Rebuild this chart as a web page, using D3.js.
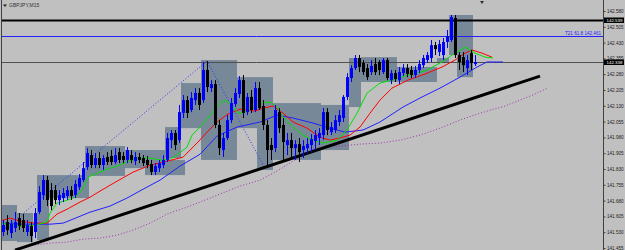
<!DOCTYPE html>
<html>
<head>
<meta charset="utf-8">
<script src="https://cdn.jsdelivr.net/npm/d3@7"></script>
<style>
body { margin: 0; background: #c0c0c0; }
svg { display: block; }
</style>
</head>
<body>
<svg width="625" height="250"></svg>
<script>
// GBPJPY M15 candles
var candleOpen = [141.531,141.578,141.526,141.550,141.597,141.588,141.531,141.559,141.531,141.626,
  141.706,141.778,141.730,141.730,141.683,141.692,141.702,141.730,141.706,141.744,
  141.778,141.839,141.896,141.849,141.882,141.849,141.887,141.892,141.863,141.910,
  141.892,141.873,141.896,141.868,141.887,141.882,141.873,141.853,141.816,141.834,
  141.849,141.873,141.967,142.001,141.967,142.096,142.157,142.110,142.157,142.191,
  142.157,142.300,142.214,142.233,142.039,141.920,141.977,142.062,142.138,142.186,
  142.252,142.100,142.172,142.110,142.214,142.129,142.039,141.944,141.929,142.100,
  142.039,141.944,141.967,141.929,141.948,141.920,141.929,141.944,141.963,141.977,
  141.991,142.100,142.005,142.015,142.053,142.072,142.172,142.262,142.309,142.357,
  142.333,142.309,142.290,142.328,142.338,142.290,142.347,142.252,142.285,142.252,
  142.285,142.309,142.300,142.276,142.300,142.323,142.347,142.357,142.418,142.385,
  142.371,142.433,142.442,142.547,142.371,142.361,142.309,142.380,142.328];
var candleHigh = [141.588,141.611,141.588,141.626,141.621,141.616,141.588,141.578,141.645,141.749,
  141.801,141.797,141.763,141.754,141.730,141.740,141.749,141.749,141.778,141.806,
  141.863,141.929,141.920,141.906,141.910,141.896,141.910,141.920,141.929,141.929,
  141.910,141.934,141.920,141.910,141.906,141.896,141.892,141.873,141.858,141.873,
  141.896,142.001,142.015,142.015,142.134,142.181,142.176,142.195,142.214,142.214,
  142.338,142.342,142.252,142.252,142.062,142.001,142.086,142.167,142.214,142.271,
  142.276,142.191,142.205,142.243,142.243,142.157,142.062,141.977,142.134,142.119,
  142.072,142.001,142.001,141.967,141.977,141.967,141.977,141.996,142.015,142.024,
  142.119,142.119,142.053,142.086,142.110,142.181,142.285,142.323,142.371,142.371,
  142.347,142.328,142.347,142.357,142.347,142.357,142.357,142.300,142.300,142.314,
  142.328,142.328,142.319,142.319,142.347,142.371,142.385,142.442,142.433,142.442,
  142.452,142.490,142.561,142.561,142.385,142.385,142.371,142.395,142.371];
var candleLow = [141.512,141.517,141.502,141.531,141.540,141.531,141.512,141.483,141.502,141.616,
  141.683,141.654,141.635,141.664,141.659,141.673,141.683,141.683,141.692,141.730,
  141.768,141.825,141.834,141.834,141.834,141.825,141.849,141.849,141.853,141.858,
  141.858,141.858,141.858,141.849,141.858,141.844,141.834,141.801,141.801,141.816,
  141.834,141.863,141.929,141.920,141.953,142.072,142.072,142.100,142.134,142.110,
  142.143,142.195,142.195,142.024,141.896,141.887,141.967,142.048,142.124,142.167,
  142.072,142.086,142.096,142.100,142.110,142.015,141.834,141.873,141.910,142.001,
  141.873,141.896,141.873,141.873,141.863,141.882,141.901,141.910,141.920,141.944,
  141.967,141.991,141.991,142.001,142.034,142.053,142.157,142.243,142.300,142.290,
  142.276,142.252,142.276,142.276,142.276,142.281,142.252,142.233,142.243,142.233,
  142.271,142.266,142.262,142.262,142.285,142.309,142.333,142.338,142.371,142.366,
  142.347,142.404,142.433,142.357,142.300,142.290,142.276,142.300,142.319];
var candleClose = [141.564,141.540,141.569,141.578,141.559,141.550,141.564,141.512,141.621,141.721,
  141.778,141.683,141.654,141.683,141.706,141.716,141.730,141.702,141.759,141.787,
  141.834,141.906,141.849,141.882,141.849,141.882,141.863,141.863,141.896,141.873,
  141.873,141.920,141.873,141.887,141.873,141.858,141.849,141.816,141.844,141.858,
  141.873,141.977,142.001,141.944,142.100,142.157,142.096,142.167,142.191,142.134,
  142.300,142.219,142.233,142.039,141.929,141.977,142.062,142.143,142.191,142.252,
  142.096,142.172,142.110,142.214,142.119,142.039,141.920,141.920,142.110,142.024,
  141.958,141.967,141.929,141.948,141.910,141.939,141.948,141.972,141.991,142.001,
  142.100,142.015,142.029,142.062,142.086,142.172,142.266,142.309,142.357,142.314,
  142.290,142.266,142.319,142.290,142.300,142.347,142.262,142.285,142.257,142.290,
  142.309,142.281,142.276,142.300,142.328,142.357,142.371,142.418,142.399,142.423,
  142.433,142.461,142.551,142.371,142.338,142.323,142.347,142.333,142.338];

// grey hourly range boxes: first bar, last bar, top, bottom
var boxFrom = [0, 4, 9, 9, 21, 31, 36, 41, 45, 50, 59, 64, 68, 80, 87, 90, 99, 109, 112, 114];
var boxTo   = [3, 7, 11, 21, 30, 40, 45, 44, 49, 58, 63, 67, 79, 86, 89, 98, 108, 111, 117, 117];
var boxTop  = [141.659,141.621,141.801,141.801,141.939,141.920,141.873,142.029,142.238,142.347,
  142.266,142.266,142.143,142.134,142.357,142.361,142.314,142.357,142.561,142.371];
var boxBottom = [141.488,141.483,141.493,141.692,141.797,141.834,141.801,141.882,142.024,141.873,
  142.024,141.825,141.873,141.920,142.124,142.243,142.243,142.333,142.371,142.266];

// moving averages (bar position, value)
var greenBars = [-0.5,4.25,8,11,11.75,13.5,16,18,19.75,21.25,23.5,26.75,29.25,31.75,34.25,36.75,39.25,41.75,43.5,46,
  47.25,49.75,52.25,54.25,55.5,57.25,58.75,60.5,62.5,64.25,66.75,68.5,70,72.5,75,77.5,80,83.5,86,88.5,
  91,94.25,97.25,101.25,105.5,109.75,113,115.5,118,120.5,122.5];
var greenVals = [141.573,141.559,141.563,141.578,141.620,141.668,141.682,141.696,141.730,141.791,141.810,141.834,141.848,141.872,141.882,141.882,141.872,141.877,141.896,141.934,
  141.991,142.038,142.095,142.143,142.157,142.133,142.095,142.100,142.119,142.143,142.148,142.124,142.076,142.029,141.991,141.967,141.953,141.967,142.015,142.095,
  142.190,142.238,142.252,142.276,142.295,142.338,142.380,142.409,142.380,142.361,142.357];
var redBars = [-0.75,1.75,4.25,8,11,13.5,16,19.25,21.75,24.25,26.75,28.5,32.5,36.75,41,45,48.75,51.25,53.75,56.25,
  59.25,63,65,67.5,70,72.5,76,79.25,81.75,84.25,86.75,89.25,91.75,94.25,97.25,101.25,105.5,109.75,113,115.5,
  117.25,119.75,122.25];
var redVals = [141.582,141.597,141.582,141.573,141.573,141.616,141.639,141.673,141.696,141.725,141.753,141.772,141.815,141.848,141.867,141.886,141.958,142.010,142.057,142.091,
  142.114,142.105,142.119,142.129,142.095,142.053,142.024,141.981,141.967,141.977,141.991,142.029,142.095,142.157,142.214,142.252,142.281,142.314,142.347,142.380,
  142.395,142.380,142.361];
var blueBars = [-0.75,4.25,11.75,15,17.5,21.75,26.75,31,35,39.25,44.25,49.25,53.5,58.5,64.25,68.5,72.5,77.5,81.75,85.5,
  90,94.25,100,104.25,109.25,114.25,118.5,121,125];
var blueVals = [141.573,141.568,141.568,141.573,141.592,141.625,141.654,141.692,141.734,141.777,141.844,141.900,141.986,142.029,142.053,142.086,142.072,142.048,142.024,142.005,
  142.015,142.053,142.124,142.167,142.214,142.266,142.314,142.338,142.338];
var purpleBars = [3.5,6,11.75,16,20,24.25,28.5,32.5,36.75,41,46,49.25,54.25,59.25,64.25,68,71.75,75,78.5,84.25,
  89.25,94.25,99.25,104.25,109.25,114.25,119.25,125.5,131.75,136.25];
var purpleVals = [141.454,141.464,141.478,141.483,141.497,141.502,141.516,141.540,141.573,141.616,141.649,141.673,141.711,141.749,141.777,141.815,141.858,141.900,141.929,141.939,
  141.948,141.953,141.967,141.991,142.024,142.062,142.095,142.129,142.176,142.214];

// zigzag swing points
var zigzagBars = [0, 51, 65.5];
var zigzagVals = [141.540, 142.342, 141.834];

// trend line anchors
var trendBars = [3, 134.25];
var trendVals = [141.445, 142.271];

// horizontal levels
var levelVals = [142.539, 142.461, 142.338];
var levelText = ["142.539", "T21 61.8  142.461", "142.338"];

// price axis
var tickLabels = ["142.580","142.505","142.430","142.355","142.280","142.205","142.130","142.055",
  "141.980","141.905","141.830","141.755","141.680","141.605","141.530","141.455"];

var svg = d3.select("svg"),
    width = +svg.attr("width"),
    height = +svg.attr("height"),
    plotRight = 603,
    font = "Liberation Sans";

var x = d3.scaleLinear().domain([0, 118]).range([3, 475]);
var y = d3.scaleLinear().domain([141.455, 142.580]).range([248, 11]);

svg.append("rect").attr("width", width).attr("height", height).attr("fill", "#c0c0c0");

svg.append("clipPath").attr("id", "plot")
  .append("rect").attr("x", 1).attr("y", 0).attr("width", plotRight - 1).attr("height", height);

var g = svg.append("g").attr("clip-path", "url(#plot)");

// boxes
g.append("g").selectAll("rect")
  .data(boxFrom.map((d, i) => i))
  .enter().append("rect")
    .attr("x", i => x(boxFrom[i]) - 2)
    .attr("y", i => y(boxTop[i]))
    .attr("width", i => x(boxTo[i]) - x(boxFrom[i]) + 4)
    .attr("height", i => y(boxBottom[i]) - y(boxTop[i]))
    .attr("fill", "#778899");

// horizontal levels
var levelColor = ["#000", "#2020ff", "#505050"],
    levelWidth = [2.2, 1, 1];
g.append("g").selectAll("line")
  .data(levelVals)
  .enter().append("line")
    .attr("x1", 0).attr("x2", plotRight)
    .attr("y1", d => Math.round(y(d)) + 0.5).attr("y2", d => Math.round(y(d)) + 0.5)
    .attr("stroke", (d, i) => levelColor[i])
    .attr("stroke-width", (d, i) => levelWidth[i]);

g.append("text")
  .attr("x", plotRight - 2).attr("y", y(levelVals[1]) - 1.5)
  .attr("text-anchor", "end")
  .attr("font-family", font)
  .attr("font-size", 4.6)
  .attr("fill", "#2020ff")
  .text(levelText[1]);

// zigzag
var line = (bars, vals) => d3.line().x((d, i) => x(bars[i])).y(d => y(d))(vals);
g.append("path").attr("d", line(zigzagBars, zigzagVals))
  .attr("fill", "none").attr("stroke", "#3030ff").attr("stroke-width", 1).attr("stroke-dasharray", "1,2");

// moving averages
g.append("path").attr("d", line(purpleBars, purpleVals))
  .attr("fill", "none").attr("stroke", "#a030b0").attr("stroke-width", 1).attr("stroke-dasharray", "1,2");
g.append("path").attr("d", line(blueBars, blueVals))
  .attr("fill", "none").attr("stroke", "#2020ff").attr("stroke-width", 1);
g.append("path").attr("d", line(redBars, redVals))
  .attr("fill", "none").attr("stroke", "#ff0000").attr("stroke-width", 1);
g.append("path").attr("d", line(greenBars, greenVals))
  .attr("fill", "none").attr("stroke", "#00e000").attr("stroke-width", 1);

// trend line
g.append("path").attr("d", line(trendBars, trendVals))
  .attr("fill", "none").attr("stroke", "#000").attr("stroke-width", 3);

// candles
var candle = g.append("g").selectAll("g")
  .data(candleOpen.map((d, i) => i))
  .enter().append("g")
    .attr("fill", i => candleClose[i] >= candleOpen[i] ? "#0000ff" : "#000")
    .attr("stroke", i => candleClose[i] >= candleOpen[i] ? "#0000ff" : "#000");
candle.append("line")
  .attr("x1", i => x(i) + 0.5).attr("x2", i => x(i) + 0.5)
  .attr("y1", i => y(candleHigh[i])).attr("y2", i => y(candleLow[i]))
  .attr("stroke-width", 1);
candle.append("rect")
  .attr("x", i => x(i) - 1)
  .attr("y", i => y(Math.max(candleOpen[i], candleClose[i])))
  .attr("width", 3)
  .attr("height", i => Math.max(1, Math.abs(y(candleOpen[i]) - y(candleClose[i]))))
  .attr("stroke", "none");

// frame
svg.append("line").attr("x1", 1.5).attr("x2", 1.5).attr("y1", 0).attr("y2", height)
  .attr("stroke", "#404040");

// price axis
var axis = svg.append("g")
  .attr("transform", "translate(" + (plotRight + 0.5) + ",0)")
  .call(d3.axisRight(y)
    .tickValues(tickLabels.map(Number))
    .tickFormat((d, i) => tickLabels[i])
    .tickSize(2)
    .tickPadding(1.5));
axis.select(".domain").attr("stroke", "#404040").attr("d", "M0,0V" + height);
axis.selectAll("line").attr("stroke", "#404040");
axis.selectAll("text").attr("font-family", font).attr("font-size", 4.6).attr("fill", "#202020");

// price tags on the axis
[0, 2].forEach(function(i) {
  var yy = Math.round(y(levelVals[i]));
  svg.append("rect").attr("x", plotRight + 1).attr("y", yy - 2.5).attr("width", 20).attr("height", 5.5)
    .attr("fill", "#000");
  svg.append("text").attr("x", plotRight + 3.5).attr("y", yy + 2)
    .attr("font-family", font).attr("font-size", 4.4).attr("fill", "#fff")
    .text(levelText[i]);
});

// title and shift marker
svg.append("path").attr("d", "M3,4.5h4l-2,2.5z").attr("fill", "#202020");
svg.append("text").attr("x", 9).attr("y", 7)
  .attr("font-family", font).attr("font-size", 5).attr("fill", "#303030")
  .text("GBPJPY,M15");
svg.append("path").attr("d", "M" + (x(119.75) - 2) + ",1h4l-2,3z").attr("fill", "#303030");
</script>
</body>
</html>
